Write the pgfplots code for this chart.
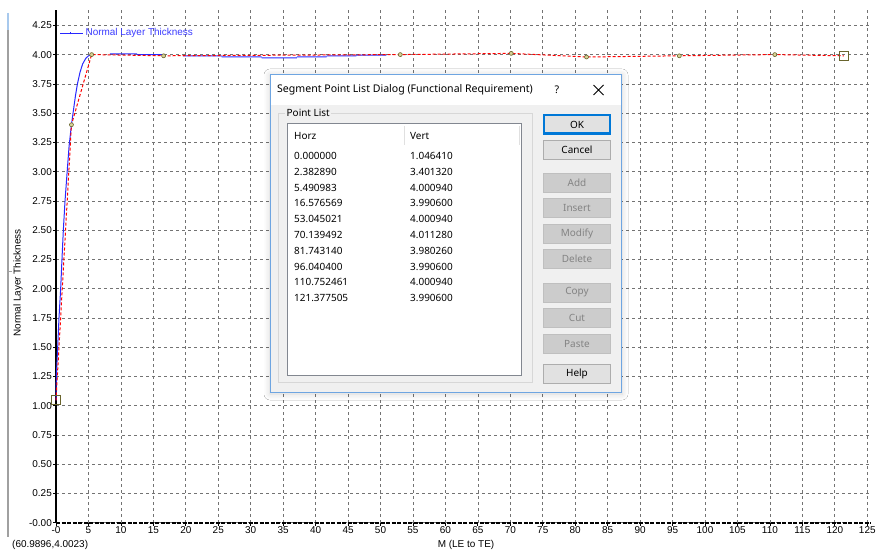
\documentclass[border=0pt]{standalone}
\usepackage{pgfplots}
\usepackage{pgfplotstable}
\pgfplotsset{compat=1.18}
\usepackage{fontspec}
\setmainfont{Liberation Sans}
\newfontfamily\uifont{Noto Sans}
\usetikzlibrary{shadows.blur}

\definecolor{curveblue}{RGB}{40,40,255}
\definecolor{legendblue}{RGB}{60,60,255}
\definecolor{gridgray}{RGB}{115,115,115}
\definecolor{ptolive}{RGB}{105,100,45}
\definecolor{ptfill}{RGB}{215,210,150}
\definecolor{dlgbg}{RGB}{240,240,240}
\definecolor{dlgborder}{RGB}{110,165,225}
\definecolor{btnface}{RGB}{225,225,225}
\definecolor{btnedge}{RGB}{173,173,173}
\definecolor{btnoff}{RGB}{204,204,204}
\definecolor{btnoffedge}{RGB}{191,191,191}
\definecolor{btnofftext}{RGB}{131,131,131}
\definecolor{focusblue}{RGB}{0,120,215}
\definecolor{listedge}{RGB}{130,135,144}
\definecolor{groupedge}{RGB}{215,215,215}
\definecolor{framegray}{RGB}{160,160,160}

% segment control points (functional requirement)
\pgfplotstableread{
x y
0.000000 1.046410
2.382890 3.401320
5.490983 4.000940
16.576569 3.990600
53.045021 4.000940
70.139492 4.011280
81.743140 3.980260
96.040400 3.990600
110.752461 4.000940
121.377505 3.990600
}\pointlist

% fitted thickness curve, drawn in visible pieces
\pgfplotstableread{
x y
0.00 1.046
0.05 1.25
0.26 1.50
0.46 1.75
0.72 2.00
0.92 2.25
1.13 2.50
1.39 2.75
1.72 3.00
2.02 3.22
2.38 3.40
2.70 3.53
3.00 3.65
3.30 3.75
3.70 3.85
4.10 3.92
4.60 3.97
5.00 3.99
5.49 4.001
nan nan
8.3 4.008
12.5 4.008
nan nan
12.5 4.000
16.3 4.000
nan nan
19.6 3.989
25.5 3.989
nan nan
25.5 3.981
31.7 3.981
nan nan
31.7 3.972
37.1 3.972
nan nan
37.1 3.981
41.7 3.981
nan nan
41.7 3.989
46.3 3.989
nan nan
46.3 3.997
50.9 3.997
}\fitcurve

\newcommand{\tickfont}{\fontsize{10}{12}\selectfont}
\newcommand{\dlgfont}{\uifont\fontsize{10}{12}\selectfont}
\newcommand{\titlefont}{\uifont\fontsize{10.6}{12}\selectfont}

\begin{document}
\begin{tikzpicture}
% picture frame in screen pixels
\begin{scope}[x=1bp, y=-1bp, shift={(-56bp,522.7bp)}]
  \path[use as bounding box] (0,0) rectangle (877,551);
  \fill[white] (0,0) rectangle (877,551);
\end{scope}

\begin{axis}[
  at={(0,0)}, anchor=south west,
  scale only axis, width=814.5bp, height=512.7bp,
  xmin=0, xmax=125.5, ymin=0, ymax=4.382,
  clip=false,
  unbounded coords=jump,
  axis lines=left, axis line style={-},
  x axis line style={line width=1.6bp, dash pattern=on 4bp off 1.5bp},
  y axis line style={line width=1.6bp},
  tick align=outside, major tick length=3bp,
  tick style={black, line width=0.8bp},
  xtick={0,5,10,15,20,25,30,35,40,45,50,55,60,65,70,75,80,85,90,95,100,105,110,115,120,125},
  xticklabels={-0,5,10,15,20,25,30,35,40,45,50,55,60,65,70,75,80,85,90,95,100,105,110,115,120,125},
  ytick={0,0.25,0.5,0.75,1,1.25,1.5,1.75,2,2.25,2.5,2.75,3,3.25,3.5,3.75,4,4.25},
  yticklabels={-0.00,0.25,0.50,0.75,1.00,1.25,1.50,1.75,2.00,2.25,2.50,2.75,3.00,3.25,3.50,3.75,4.00,4.25},
  tick label style={font=\tickfont},
  xticklabel style={inner sep=1bp},
  yticklabel style={inner sep=1bp},
  grid=major,
  major grid style={gridgray, line width=0.7bp, dash pattern=on 3bp off 3bp},
  legend style={at={(axis cs:0.55,4.185)}, anchor=west, draw=none, fill=none,
    inner sep=0pt, font=\tickfont\color{legendblue}},
  legend image code/.code={
    \draw[curveblue, line width=0.8bp] (0bp,0bp) -- (23bp,0bp);
    \draw[curveblue, line width=0.8bp] (10bp,-1.2bp) -- (10bp,1.2bp);},
]
\addplot[curveblue, line width=1bp] table {\fitcurve};
\addlegendentry{Normal Layer Thickness}
\addplot[red, line width=1bp, dash pattern=on 3bp off 2bp, forget plot] table {\pointlist};
\addplot[only marks, mark=*, mark size=2bp, forget plot,
  mark options={draw=ptolive, fill=ptfill, line width=0.6bp},
  skip coords between index={0}{1}, skip coords between index={9}{10}] table {\pointlist};
\addplot[only marks, mark=square, mark size=4.5bp, forget plot,
  mark options={draw=ptolive, line width=0.8bp},
  skip coords between index={1}{9}] table {\pointlist};
\end{axis}

\begin{scope}[x=1bp, y=-1bp, shift={(-56bp,522.7bp)}]
  % window edge on the left
  \draw[framegray, line width=2.5bp] (8,30) -- (8,537);
  \draw[dlgborder!60, line width=2.5bp] (8,13) -- (8,30);
  \draw[framegray, line width=0.8bp] (8,271.5) -- (12,271.5);

  % axis titles and cursor readout
  \node[font=\tickfont] at (466,545) {M (LE to TE)};
  \node[font=\tickfont, rotate=90] at (18,283) {Normal Layer Thickness};
  \node[font=\tickfont, anchor=west, inner sep=0] at (12,545) {(60.9896,4.0023)};

  % dialog window
  \fill[dlgbg, blur shadow={shadow xshift=0bp, shadow yshift=-1bp,
    shadow blur radius=6bp, shadow opacity=18}] (270,74) rectangle (622,393);
  \fill[white] (270,74) rectangle (622,105);
  \draw[dlgborder, line width=1bp] (270.5,74.5) rectangle (621.5,392.5);
  \node[font=\titlefont, anchor=west, inner sep=0] at (277,90)
    {Segment Point List Dialog (Functional Requirement)};
  \node[font=\titlefont, inner sep=0] at (557,90) {?};
  \draw[black, line width=0.9bp] (593.5,85) -- (603.5,95) (593.5,95) -- (603.5,85);

  % point list group
  \draw[groupedge, line width=1bp] (278.5,113.5) rectangle (532.5,382.5);
  \node[font=\dlgfont, anchor=west, fill=dlgbg, inner xsep=1.5bp, inner ysep=0] at (285,113) {Point List};
  \filldraw[fill=white, draw=listedge, line width=1bp] (287,123.5) rectangle (521.5,375);
  \draw[black!12, line width=0.8bp] (404,126) -- (404,145) (519,126) -- (519,145);
  \node[font=\dlgfont, anchor=west, inner sep=0] at (294,136) {Horz};
  \node[font=\dlgfont, anchor=west, inner sep=0] at (410,136) {Vert};
  \foreach \h/\v [count=\k from 0] in {0.000000/1.046410, 2.382890/3.401320,
      5.490983/4.000940, 16.576569/3.990600, 53.045021/4.000940,
      70.139492/4.011280, 81.743140/3.980260, 96.040400/3.990600,
      110.752461/4.000940, 121.377505/3.990600}{
    \node[font=\dlgfont, anchor=west, inner sep=0] at (294,{156+15.8*\k}) {\h};
    \node[font=\dlgfont, anchor=west, inner sep=0] at (410,{156+15.8*\k}) {\v};
  }

  % buttons
  \foreach \ya/\yb/\lab in {140.5/159.5/Cancel, 364/383/Help}{
    \filldraw[fill=btnface, draw=btnedge, line width=1bp] (543.5,\ya) rectangle (610.5,\yb);
    \node[font=\dlgfont, inner sep=0] at (577,{(\ya+\yb)/2}) {\lab};
  }
  \filldraw[fill=btnface, draw=focusblue, line width=2bp] (544,115.5) rectangle (610,133.5);
  \node[font=\dlgfont, inner sep=0] at (577,124.5) {OK};
  \foreach \ya/\yb/\lab in {173/192/Add, 198/217/Insert, 224/243/Modify,
      249/268/Delete, 283/302/Copy, 308/327/Cut, 334/353/Paste}{
    \filldraw[fill=btnoff, draw=btnoffedge, line width=1bp] (543.5,\ya) rectangle (610.5,\yb);
    \node[font=\dlgfont, text=btnofftext, inner sep=0] at (577,{(\ya+\yb)/2}) {\lab};
  }
\end{scope}
\end{tikzpicture}
\end{document}
